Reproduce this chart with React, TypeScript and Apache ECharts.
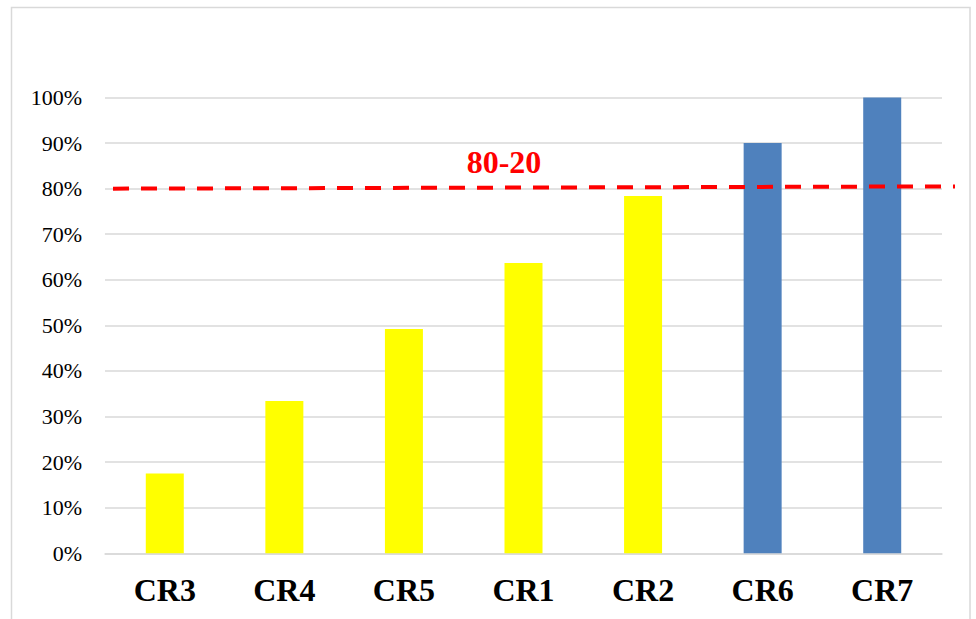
import React, { useEffect, useRef } from "react";
import * as echarts from "echarts";

const categories = ["CR3", "CR4", "CR5", "CR1", "CR2", "CR6", "CR7"];
const values = [0.175, 0.334, 0.492, 0.637, 0.784, 0.9, 1.0];
const barColors = ["#FFFF00", "#FFFF00", "#FFFF00", "#FFFF00", "#FFFF00", "#4F81BD", "#4F81BD"];
const thresholdStart = 0.8;
const thresholdEnd = 0.805;
const thresholdLabel = "80-20";

const FONT = "'Liberation Serif', 'Times New Roman', serif";

export default function App() {
  const ref = useRef<HTMLDivElement>(null);
  useEffect(() => {
    if (!ref.current) return;
    const chart = echarts.init(ref.current, null, { renderer: "svg" });
    chart.setOption({
      animation: false,
      backgroundColor: "#ffffff",
      grid: { left: 105, right: 34, top: 97.5, bottom: 65.7, containLabel: false },
      xAxis: {
        type: "category",
        data: categories,
        axisLine: { show: true, lineStyle: { color: "#d9d9d9", width: 1.5 } },
        axisTick: { show: false },
        axisLabel: {
          margin: 21,
          fontFamily: FONT,
          fontSize: 32,
          fontWeight: "bold",
          color: "#000000",
        },
      },
      yAxis: {
        type: "value",
        min: 0,
        max: 1,
        interval: 0.1,
        axisLine: { show: false },
        axisTick: { show: false },
        splitLine: { lineStyle: { color: "#d9d9d9", width: 1.5 } },
        axisLabel: {
          margin: 23,
          fontFamily: FONT,
          fontSize: 22,
          color: "#000000",
          formatter: (v: number) => Math.round(v * 100) + "%",
        },
      },
      series: [
        {
          type: "bar",
          barWidth: 38,
          data: values.map((v, i) => ({ value: v, itemStyle: { color: barColors[i] } })),
        },
      ],
    });
    const y1 = chart.convertToPixel({ yAxisIndex: 0 }, thresholdStart) as number;
    const y2 = chart.convertToPixel({ yAxisIndex: 0 }, thresholdEnd) as number;
    chart.setOption({
      graphic: [
        {
          type: "rect",
          shape: { x: 11.5, y: 7.5, width: 958.5, height: 620 },
          style: { fill: "none", stroke: "#d9d9d9", lineWidth: 1.5 },
          silent: true,
        },
        {
          type: "line",
          shape: { x1: 113, y1: y1, x2: 955, y2: y2 },
          style: { stroke: "#FF0000", lineWidth: 4, lineDash: [16, 12] },
          z: 10,
        },
        {
          type: "text",
          x: 504,
          y: 162,
          style: {
            text: thresholdLabel,
            fill: "#FF0000",
            font: `bold 32px ${FONT}`,
            align: "center",
            verticalAlign: "middle",
          },
          z: 10,
        },
      ],
    });
    return () => chart.dispose();
  }, []);
  return (
    <div
      ref={ref}
      style={{ position: "absolute", left: 0, top: 0, width: 976, height: 619 }}
    />
  );
}
